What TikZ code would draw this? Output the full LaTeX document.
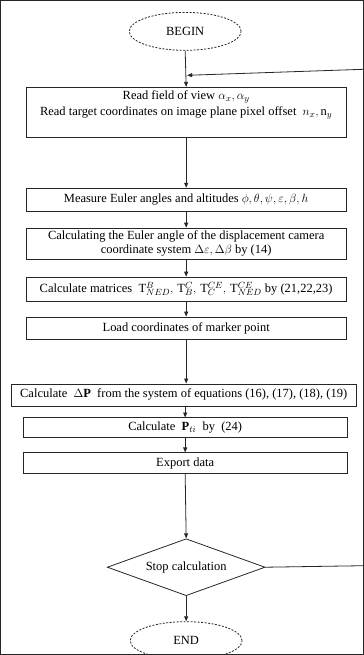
\documentclass[tikz,border=0pt]{standalone}
\usepackage{fontspec}
\setmainfont{Liberation Serif}
\usetikzlibrary{shapes.geometric,arrows.meta}
\begin{document}
\begin{tikzpicture}[x=1pt,y=-1pt,
  font=\fontsize{12.5}{14}\selectfont,
  every path/.style={line width=0.8pt,draw=black!85},
  stepbox/.style={draw,rectangle,inner sep=0pt,minimum width=320pt},
  term/.style={draw,ellipse,dashed,dash pattern=on 2pt off 1.5pt,minimum width=112pt,minimum height=38pt,inner sep=0pt},
  decide/.style={draw,diamond,aspect=2.77,minimum width=158pt,minimum height=57pt,inner sep=0pt},
  arr/.style={-{Triangle[length=5pt,width=4pt]}}]
\useasboundingbox (0,0) rectangle (363,655);
\node[term] (begin) at (185,31) {BEGIN};
\node[stepbox,minimum height=50pt] (b1) at (186,112) {};
\node[anchor=north,align=center,inner sep=0pt] (t1) at (186,90)
  {Read field of view $\alpha_x,\alpha_y$\\[2pt]
   Read target coordinates on image plane pixel offset\ \ $n_x,\mathrm{n}_y$};
\node[stepbox,minimum height=23pt] (b2) at (186,199.5) {Measure Euler angles and altitudes $\phi,\theta,\psi,\varepsilon,\beta,h$};
\node[stepbox,minimum height=31pt,align=center] (b3) at (186,243.5)
  {Calculating the Euler angle of the displacement camera\\
   coordinate system $\Delta\varepsilon,\Delta\beta$ by (14)};
\node[stepbox,minimum height=24pt] (b4) at (186,289)
  {Calculate matrices\ \ $\mathrm{T}^{B}_{NED},\,\mathrm{T}^{C}_{B},\,\mathrm{T}^{CE}_{C},\,\mathrm{T}^{CE}_{NED}$ by (21,22,23)};
\node[stepbox,minimum height=22pt] (b5) at (186,328) {Load coordinates of marker point};
\node[draw,rectangle,inner sep=0pt,minimum width=345pt,minimum height=22pt] (b6) at (183.5,395)
  {Calculate\ \ $\Delta\mathbf{P}$\ \ from the system of equations (16), (17), (18), (19)};
\node[stepbox,minimum height=20pt,minimum width=324pt] (b7) at (185,428) {Calculate\ \ $\mathbf{P}_{ti}$\ \ by\ \ (24)};
\node[stepbox,minimum height=21pt,minimum width=324pt] (b8) at (185,463.5) {Export data};
\node[decide] (stop) at (186,567.5) {Stop calculation};
\node[term] (end) at (186,641) {END};
\coordinate (r1) at (363,566);
\coordinate (r2) at (363,69);
\coordinate (j) at (187,75);
\draw[arr] (begin.south) -- (b1.north);
\draw[arr] (r2) -- (j);
\draw[arr] (b1.south) -- (b2.north);
\draw[arr] (b2.south) -- (b3.north);
\draw[arr] (b3.south) -- (b4.north);
\draw[arr] (b4.south) -- (b5.north);
\draw[arr] (b5.south) -- (b5.south |- b6.north);
\draw[arr] (b6.south -| b7.north) -- (b7.north);
\draw[arr] (b7.south) -- (b8.north);
\draw[arr] (b8.south) -- (stop.north);
\draw[arr] (stop.south) -- (end.north);
\draw (stop.east) -- (r1);
\end{tikzpicture}
\end{document}
